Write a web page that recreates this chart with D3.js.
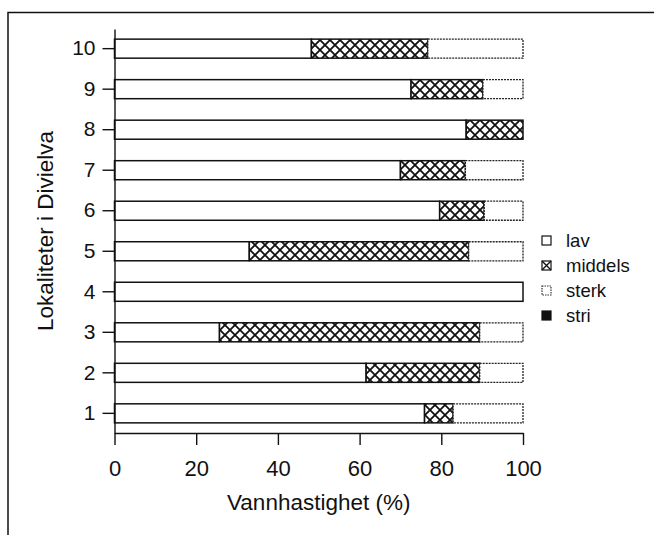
<!DOCTYPE html>
<html>
<head>
<meta charset="utf-8">
<script src="https://cdn.jsdelivr.net/npm/d3@7"></script>
<style>
  body { margin: 0; background: #fff; }
  svg { display: block; font-family: "Liberation Sans", Arial, Helvetica, sans-serif; }
</style>
</head>
<body>
<div class="chart-container"></div>
<script>
//! DATA
const lokaliteter = [1, 2, 3, 4, 5, 6, 7, 8, 9, 10]
const lav     = [75.9, 61.6, 25.7, 100, 33.0, 79.6, 70.0, 86.1, 72.6, 48.2]
const middels = [7.0, 27.8, 63.7, 0, 53.7, 10.9, 15.9, 13.9, 17.6, 28.5]
const sterk   = [17.1, 10.6, 10.6, 0, 13.3, 9.5, 14.1, 0, 9.8, 23.3]
const stri    = [0, 0, 0, 0, 0, 0, 0, 0, 0, 0]
const kategorier = ['lav', 'middels', 'sterk', 'stri']
const xTicks = [0, 20, 40, 60, 80, 100]
const xTitle = 'Vannhastighet (%)'
const yTitle = 'Lokaliteter i Divielva'

//! CONSTS
const WIDTH = 654
const HEIGHT = 535
const LEFT = 114.5, RIGHT = 523, TOP = 29, BOTTOM = 433

const table = lokaliteter.map((lok, i) => ({
  lok, lav: lav[i], middels: middels[i], sterk: sterk[i], stri: stri[i]
}))

//! SVG
const svg = d3.select('.chart-container')
  .append('svg')
  .attr('width', WIDTH)
  .attr('height', HEIGHT)

const defs = svg.append('defs')
const kryss = defs.append('pattern')
  .attr('id', 'kryss')
  .attr('patternUnits', 'userSpaceOnUse')
  .attr('width', 10)
  .attr('height', 10)
kryss.append('rect').attr('width', 10).attr('height', 10).attr('fill', '#fff')
kryss.append('path')
  .attr('d', 'M0,0L10,10M10,0L0,10')
  .attr('stroke', '#111')
  .attr('stroke-width', 1.8)

// frame around the figure
svg.append('path')
  .attr('d', `M8,${HEIGHT}V12.5H${WIDTH}`)
  .attr('fill', 'none')
  .attr('stroke', '#111')
  .attr('stroke-width', 1.5)

//! SCALES
const xScale = d3.scaleLinear()
  .domain([0, 100])
  .range([LEFT, RIGHT])

const yScale = d3.scaleBand()
  .domain(lokaliteter.slice().reverse())
  .range([TOP, BOTTOM])
  .paddingInner(0.53)
  .paddingOuter(0.25)

const fills = { lav: '#fff', middels: 'url(#kryss)', sterk: '#fff', stri: '#111' }

//! BARS
const series = d3.stack().keys(kategorier)(table)

svg.append('g')
  .selectAll('g')
  .data(series)
  .join('g')
  .attr('class', d => 'serie ' + d.key)
  .each(function (s) {
    d3.select(this)
      .selectAll('rect')
      .data(s.filter(d => d[1] - d[0] > 0))
      .join('rect')
      .attr('x', d => xScale(d[0]))
      .attr('y', d => yScale(d.data.lok))
      .attr('width', d => xScale(d[1]) - xScale(d[0]))
      .attr('height', yScale.bandwidth())
      .attr('fill', fills[s.key])
      .attr('stroke', s.key === 'sterk' ? '#222' : '#111')
      .attr('stroke-width', s.key === 'sterk' ? 1.3 : 1.5)
      .attr('stroke-dasharray', s.key === 'sterk' ? '2,1' : null)
  })

//! AXES
const xAxis = d3.axisBottom(xScale)
  .tickValues(xTicks)
  .tickSize(12)
  .tickSizeOuter(0)
  .tickPadding(15)
  .tickFormat(d3.format('d'))

const yAxis = d3.axisLeft(yScale)
  .tickSize(12)
  .tickSizeOuter(0)
  .tickPadding(7)

const gx = svg.append('g')
  .attr('transform', `translate(0,${BOTTOM})`)
  .call(xAxis)
gx.selectAll('text').attr('font-size', 22).attr('fill', '#111')

const gy = svg.append('g')
  .attr('transform', `translate(${LEFT},0)`)
  .call(yAxis)
gy.selectAll('text').attr('font-size', 21).attr('fill', '#111')

svg.selectAll('.domain, .tick line')
  .attr('stroke', '#111')
  .attr('stroke-width', 1.4)

svg.append('text')
  .attr('x', (LEFT + RIGHT) / 2)
  .attr('y', 510)
  .attr('text-anchor', 'middle')
  .attr('font-size', 22.5)
  .attr('fill', '#111')
  .text(xTitle)

svg.append('text')
  .attr('transform', `translate(53,${(TOP + BOTTOM) / 2}) rotate(-90)`)
  .attr('text-anchor', 'middle')
  .attr('font-size', 22.5)
  .attr('fill', '#111')
  .text(yTitle)

//! LEGEND
const legend = svg.append('g')
  .attr('transform', 'translate(542,236)')

const item = legend.selectAll('g')
  .data(kategorier)
  .join('g')
  .attr('transform', (d, i) => `translate(0,${i * 25})`)

item.append('rect')
  .attr('width', 9)
  .attr('height', 9)
  .attr('fill', d => d === 'stri' ? '#111' : '#fff')
  .attr('stroke', d => d === 'sterk' ? '#333' : '#111')
  .attr('stroke-width', 1.2)
  .attr('stroke-dasharray', d => d === 'sterk' ? '1.5,1' : null)

item.filter(d => d === 'middels')
  .append('path')
  .attr('d', 'M0,0L9,9M9,0L0,9')
  .attr('stroke', '#111')
  .attr('stroke-width', 1.4)

item.append('text')
  .attr('x', 24)
  .attr('y', 4.5)
  .attr('dy', '0.35em')
  .attr('font-size', 18.5)
  .attr('fill', '#111')
  .text(d => d)
</script>
</body>
</html>
